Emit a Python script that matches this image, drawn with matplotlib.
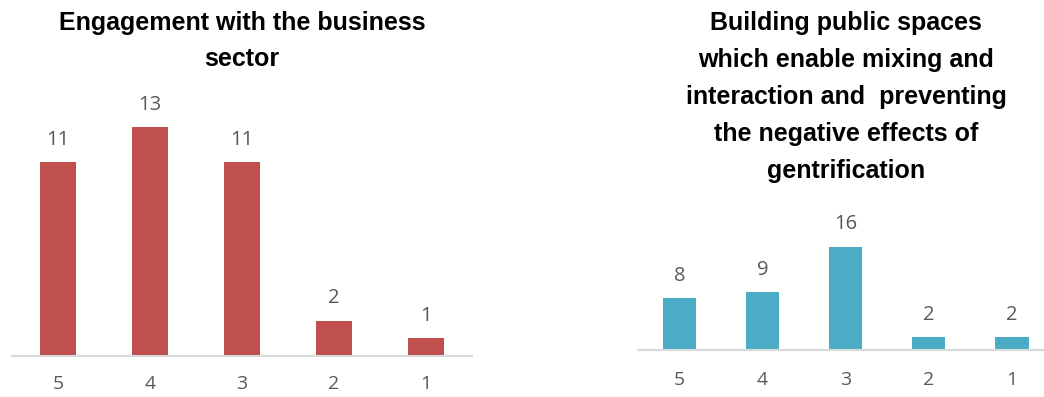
import matplotlib
matplotlib.use("Agg")
import matplotlib.pyplot as plt
from matplotlib import font_manager

categories = ["5", "4", "3", "2", "1"]
business_values = [11, 13, 11, 2, 1]
spaces_values = [8, 9, 16, 2, 2]
title_left = "Engagement with the business\nsector"
title_right = ("Building public spaces\nwhich enable mixing and\ninteraction and  preventing\n"
               "the negative effects of\ngentrification")

names = {f.name for f in font_manager.fontManager.ttflist}
title_font = "Liberation Sans Narrow" if "Liberation Sans Narrow" in names else "Liberation Sans"
label_font = "Open Sans"

W, H = 1044, 397
fig = plt.figure(figsize=(W / 100, H / 100), dpi=100)

def px_axes(x0, x1, base, height):
    return fig.add_axes([x0 / W, (H - base) / H, (x1 - x0) / W, height / H])

def draw(ax, values, color, ymax, pad):
    x = range(len(categories))
    bars = ax.bar(x, values, width=0.4, color=color, zorder=2)
    ax.set_xlim(-0.5, len(categories) - 0.5)
    ax.set_ylim(0, ymax)
    for s in ["top", "right", "left"]:
        ax.spines[s].set_visible(False)
    ax.spines["bottom"].set_color("#d9d9d9")
    ax.spines["bottom"].set_linewidth(1.5)
    ax.set_yticks([])
    ax.set_xticks(list(x))
    ax.set_xticklabels(categories, fontsize=14, color="#595959", family=label_font)
    ax.tick_params(axis="x", length=0, pad=pad)
    for b, v in zip(bars, values):
        ax.annotate(str(v), (b.get_x() + b.get_width() / 2, v), xytext=(0, 9),
                    textcoords="offset points", ha="center", va="bottom",
                    fontsize=14.5, color="#595959", family=label_font, annotation_clip=False)

ax1 = px_axes(12, 472, 356, 14 * 17.6)
draw(ax1, business_values, "#C0504D", 14, 14)
ax2 = px_axes(638, 1053.5, 350, 20 * 6.44)
draw(ax2, spaces_values, "#4BACC6", 20, 15)

fig.text(242 / W, 1 - 11 / H, title_left, ha="center", va="top", fontsize=18,
         fontweight="bold", family=title_font, linespacing=1.65)
fig.text(846 / W, 1 - 11 / H, title_right, ha="center", va="top", fontsize=18,
         fontweight="bold", family=title_font, linespacing=1.68)

fig.savefig("out.png", dpi=100)
